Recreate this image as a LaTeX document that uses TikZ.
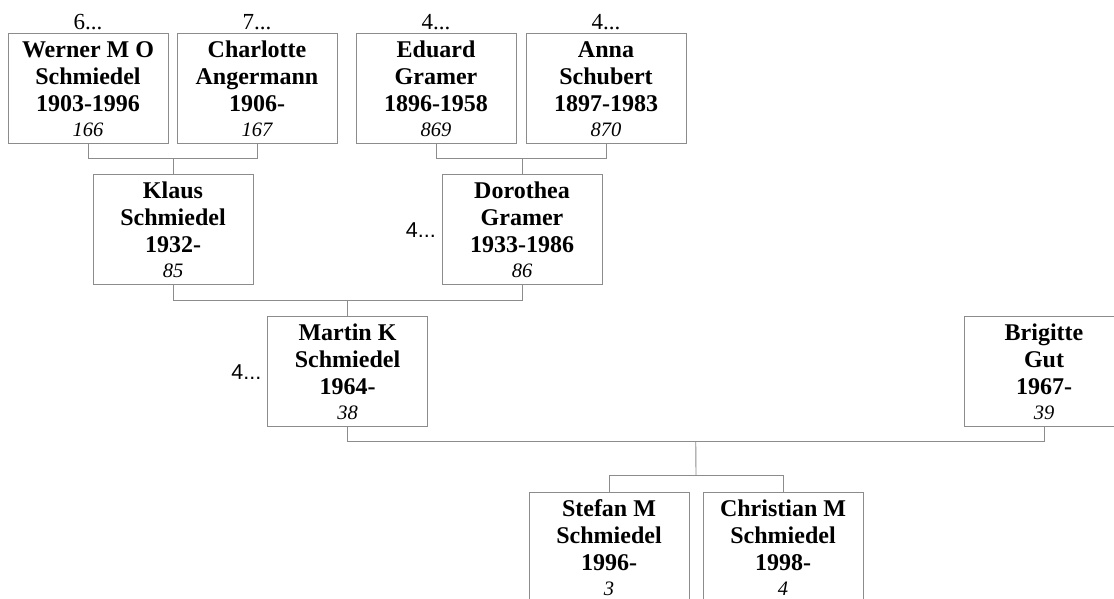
\documentclass[tikz,border=0pt]{standalone}
\usepackage{fontspec}
\setmainfont{Liberation Serif}
\newfontfamily\sansf{Liberation Sans}
\usetikzlibrary{calc}
\definecolor{linec}{RGB}{140,140,140}
\tikzset{
  pbox/.style={draw=linec, line width=0.9pt, minimum width=160pt, minimum height=110pt, inner sep=0pt, outer sep=0pt},
  bname/.style={font=\fontsize{24}{28}\selectfont\bfseries, anchor=base, inner sep=0pt},
  pnum/.style={font=\fontsize{20.5}{24}\selectfont\itshape, anchor=base, inner sep=0pt},
  more/.style={font=\fontsize{23}{26}\selectfont, anchor=base, inner sep=0pt},
  sidemore/.style={font=\sansf\fontsize{21.5}{25}\selectfont, anchor=east, inner sep=0pt},
  link/.style={draw=linec, line width=0.9pt},
}
% id, left x, top y, line1, line2, line3, number
\newcommand\personbox[7]{%
  \node[pbox] (#1) at (#2+80, #3+55) {};
  \node[bname] (#1-a) at ($(#1.north)+(0,24.3)$) {#4};
  \node[bname] (#1-b) at ($(#1.north)+(0,51)$) {#5};
  \node[bname] (#1-c) at ($(#1.north)+(0,78)$) {#6};
  \node[pnum] (#1-n) at ($(#1.north)+(0,103.7)$) {#7};
}
\begin{document}
\begin{tikzpicture}[x=1pt, y=-1pt]
\useasboundingbox (0,0) rectangle (1114,598);
\clip (0,0) rectangle (1114,598);
\fill[white] (0,0) rectangle (1114,598);

% row 1
\personbox{w}{8}{33}{Werner M O}{Schmiedel}{1903-1996}{166}
\personbox{c}{177}{33}{Charlotte}{Angermann}{1906-}{167}
\personbox{e}{356}{33}{Eduard}{Gramer}{1896-1958}{869}
\personbox{a}{526}{33}{Anna}{Schubert}{1897-1983}{870}
\node[more] (w-up) at ($(w.north)+(0,-4)$) {6...};
\node[more] (c-up) at ($(c.north)+(0,-4)$) {7...};
\node[more] (e-up) at ($(e.north)+(0,-4)$) {4...};
\node[more] (a-up) at ($(a.north)+(0,-4)$) {4...};

% row 2
\personbox{k}{93}{174}{Klaus}{Schmiedel}{1932-}{85}
\personbox{d}{442}{174}{Dorothea}{Gramer}{1933-1986}{86}
\node[sidemore] (d-side) at ($(d.west)+(-6,1)$) {4...};

% row 3
\personbox{m}{267.5}{316}{Martin K}{Schmiedel}{1964-}{38}
\personbox{b}{964}{316}{Brigitte}{Gut}{1967-}{39}
\node[sidemore] (m-side) at ($(m.west)+(-6,1)$) {4...};

% row 4
\personbox{s}{529}{492}{Stefan M}{Schmiedel}{1996-}{3}
\personbox{ch}{703}{492}{Christian M}{Schmiedel}{1998-}{4}

% connectors
\coordinate (bar1) at ($(w.south)!0.5!(c.south)+(0,15)$);
\draw[link] (w.south) -- ++(0,15) -| (c.south);
\draw[link] (k.north) -- (k.north |- bar1);

\coordinate (bar2) at ($(e.south)!0.5!(a.south)+(0,15)$);
\draw[link] (e.south) -- ++(0,15) -| (a.south);
\draw[link] (d.north) -- (d.north |- bar2);

\coordinate (bar3) at ($(k.south)!0.5!(d.south)+(0,16)$);
\draw[link] (k.south) -- ++(0,16) -| (d.south);
\draw[link] (m.north) -- (m.north |- bar3);

\coordinate (bar4) at ($(m.south)!0.5!(b.south)+(0,15)$);
\draw[link] (m.south) -- ++(0,15) -| (b.south);

\coordinate (bar5) at ($(s.north)!0.5!(ch.north)+(0,-17)$);
\draw[link] (s.north) -- ++(0,-17) -| (ch.north);
\draw[link] (bar4) -- (bar5);
\end{tikzpicture}
\end{document}
